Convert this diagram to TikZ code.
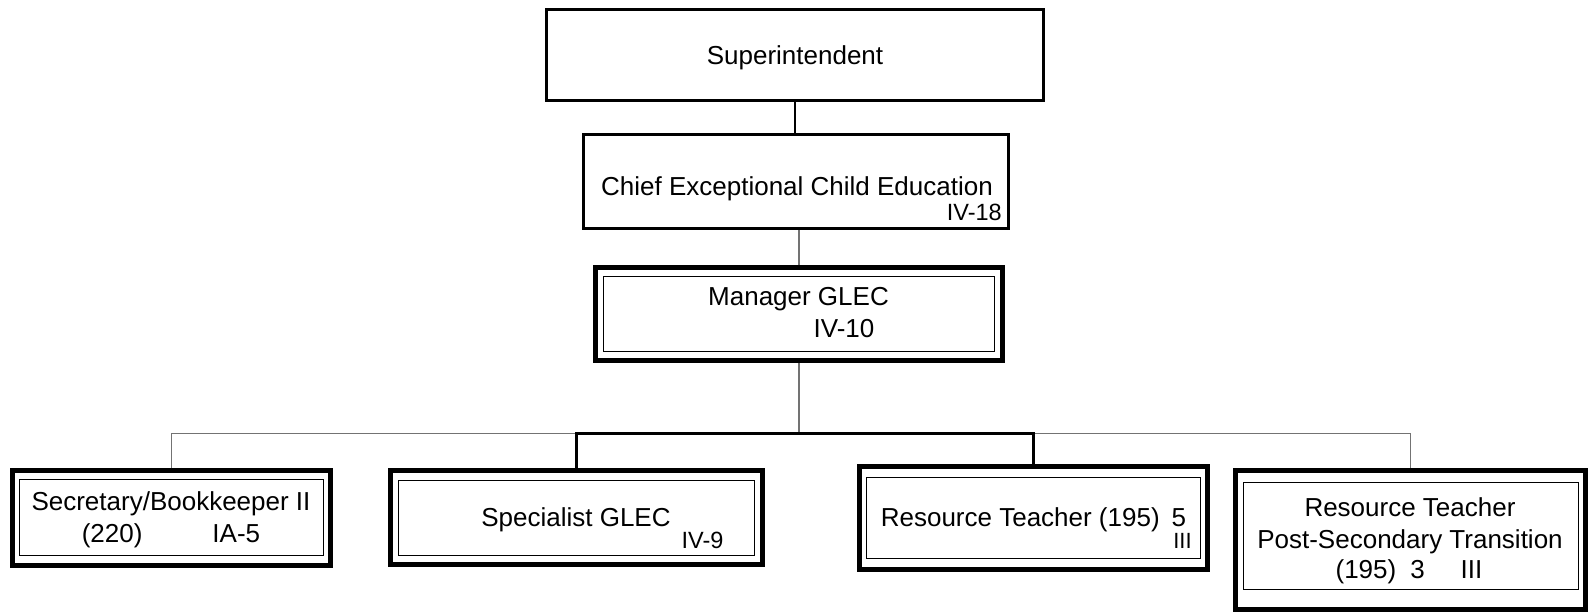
\documentclass[tikz,border=0pt]{standalone}
\usepackage{fontspec}
\setmainfont{Liberation Sans}
\usetikzlibrary{calc,positioning}

\begin{document}
\begin{tikzpicture}[x=1pt, y=-1pt,
		topbox/.style={draw, line width=2.8pt, inner sep=0pt},
		outerbox/.style={draw, line width=5pt, inner sep=0pt},
		innerbox/.style={draw, line width=1pt, inner sep=0pt},
		txt/.style={font=\fontsize{26}{32}\selectfont, inner sep=0pt, anchor=base},
		smalltxt/.style={font=\fontsize{23.5}{27}\selectfont, inner sep=0pt, anchor=base},
		thinline/.style={draw=black!55, line width=1.3pt},
		thickline/.style={draw=black, line width=2.2pt}]
					\useasboundingbox (0, 0) rectangle (1591, 615);

					% top of the chart
					\node[topbox, minimum width=497pt, minimum height=91pt] at (795, 55) (super) {};
					\node[txt] at (795, 65) (supertext) {Superintendent};

					\node[topbox, minimum width=425pt, minimum height=94pt] at (796, 181.5) (chief) {};
					\node[txt] at (797, 195) (chieftext) {Chief Exceptional Child Education};
					\node[smalltxt, anchor=base east] at (1002, 220) (chiefgrade) {IV-18};

					\node[outerbox, minimum width=407pt, minimum height=93pt] at (799, 314) (mgr) {};
					\node[innerbox, minimum width=391pt, minimum height=75pt] at (799, 314) (mgrin) {};
					\node[txt] at (798.5, 305) (mgrtext) {Manager GLEC};
					\node[txt] at (844, 337) (mgrgrade) {IV-10};

					% bottom row
					\node[outerbox, minimum width=318pt, minimum height=95pt] at (171.5, 518) (sec) {};
					\node[innerbox, minimum width=304pt, minimum height=76pt] at (171.5, 517.5) (secin) {};
					\node[txt] at (171, 510) (sectext) {Secretary/Bookkeeper II};
					\node[txt] at (171, 542) (secgrade) {(220)\hspace{70pt}IA-5};

					\node[outerbox, minimum width=372pt, minimum height=94pt] at (576.5, 517.5) (spec) {};
					\node[innerbox, minimum width=356pt, minimum height=75pt] at (576.5, 518) (specin) {};
					\node[txt] at (576, 526) (spectext) {Specialist GLEC};
					\node[smalltxt] at (702.5, 548) (specgrade) {IV-9};

					\node[outerbox, minimum width=348pt, minimum height=103pt] at (1033.5, 518) (rt) {};
					\node[innerbox, minimum width=334pt, minimum height=81pt] at (1033.5, 518) (rtin) {};
					\node[txt] at (1033.5, 526) (rttext) {Resource Teacher (195)\hspace{12pt}5};
					\node[font=\fontsize{22}{24}\selectfont, inner sep=0pt, anchor=base] at (1182.5, 548) (rtgrade) {III};

					\node[outerbox, line width=4.5pt, minimum width=350pt, minimum height=139pt] at (1410.5, 540) (rtp) {};
					\node[innerbox, minimum width=335pt, minimum height=107pt] at (1411, 536) (rtpin) {};
					\node[txt] at (1410, 516) (rtptext) {Resource Teacher};
					\node[txt] at (1410, 548) (rtptext2) {Post-Secondary Transition};
					\node[txt] at (1409, 578) (rtpgrade) {(195)\hspace{14pt}3\hspace{36pt}III};

					% connectors
					\coordinate (bus) at (799, 433.5);
					\draw[thickline] (super.south) -- (super.south |- chief.north);
					\draw[thinline] (mgr.north) -- (mgr.north |- chief.south);
					\draw[thinline] (mgr.south) -- (mgr.south |- bus);
					\draw[thinline] (sec.north) -- (sec.north |- bus) -- (rtp.north |- bus) -- (rtp.north);
					\draw[thickline] (spec.north) -- (spec.north |- bus) -- (rt.north |- bus) -- (rt.north);
					%\draw[thickline] (mgr.south) -- (mgr.south |- bus);
				\end{tikzpicture}
\end{document}
